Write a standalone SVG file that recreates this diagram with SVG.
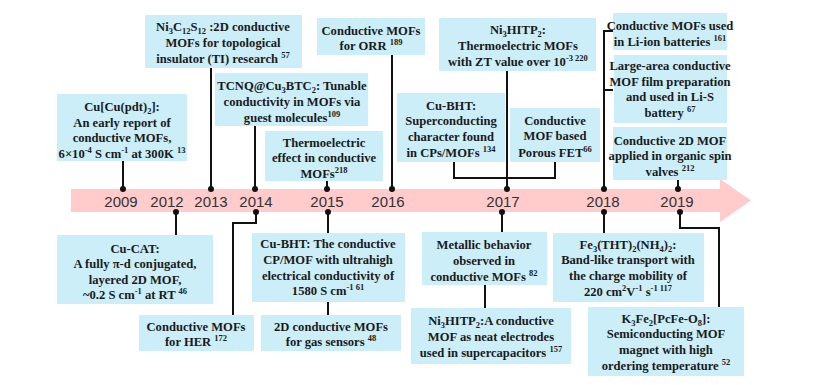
<svg xmlns="http://www.w3.org/2000/svg" width="827" height="385" viewBox="0 0 827 385">
<style>
.bg{fill:#ffffff}
.box{fill:#CBEEF9}
.t{font-family:"Liberation Serif","Times New Roman",serif;font-weight:bold;font-size:12.6px;fill:#1a1a1a;text-anchor:middle}
.sb{font-size:8.5px;baseline-shift:-3px}
.sp{font-size:8.5px;baseline-shift:5px}
.yr{font-family:"Liberation Sans",Arial,sans-serif;font-size:15px;fill:#333;text-anchor:middle}
.ln{fill:none;stroke:#111;stroke-width:2}
.dot{fill:#111}
</style>
<rect class="bg" x="0" y="0" width="827" height="385"/>
<g id="timeline">
<polygon points="71,189 720,189 720,179 751,200.5 720,222 720,212 71,212" fill="#FFCBCB"/>
<text class="yr" x="121" y="206.5">2009</text>
<text class="yr" x="167" y="206.5">2012</text>
<text class="yr" x="211" y="206.5">2013</text>
<text class="yr" x="256" y="206.5">2014</text>
<text class="yr" x="327" y="206.5">2015</text>
<text class="yr" x="388" y="206.5">2016</text>
<text class="yr" x="503" y="206.5">2017</text>
<text class="yr" x="603" y="206.5">2018</text>
<text class="yr" x="677" y="206.5">2019</text>
</g>
<g id="connectors">
<path class="ln" d="M123,161 V189"/>
<path class="ln" d="M211,68 V189"/>
<path class="ln" d="M255,126 V189"/>
<path class="ln" d="M327,181 V189"/>
<path class="ln" d="M392,55 V189"/>
<path class="ln" d="M507,71 V189"/>
<path class="ln" d="M454,162 V178 H555 V162"/>
<path class="ln" d="M613,31 H604 V189 M613,90 H604"/>
<path class="ln" d="M678,180 V189"/>
<path class="ln" d="M176,212 V235"/>
<path class="ln" d="M256,212 V223 H233 V315"/>
<path class="ln" d="M328,212 V233 M328,302 V315"/>
<path class="ln" d="M502,212 V232 M485,285 V308"/>
<path class="ln" d="M604,212 V233"/>
<path class="ln" d="M680,212 V228 H719 V307"/>
<circle class="dot" cx="123" cy="189" r="3"/>
<circle class="dot" cx="211" cy="189" r="3"/>
<circle class="dot" cx="255" cy="189" r="3"/>
<circle class="dot" cx="327" cy="189" r="3"/>
<circle class="dot" cx="392" cy="189" r="3"/>
<circle class="dot" cx="507" cy="189" r="3"/>
<circle class="dot" cx="604" cy="189" r="3"/>
<circle class="dot" cx="678" cy="189" r="3"/>
<circle class="dot" cx="176" cy="212" r="3"/>
<circle class="dot" cx="256" cy="212" r="3"/>
<circle class="dot" cx="328" cy="212" r="3"/>
<circle class="dot" cx="502" cy="212" r="3"/>
<circle class="dot" cx="604" cy="212" r="3"/>
<circle class="dot" cx="680" cy="212" r="3"/>
</g>
<g id="n2009">
<rect class="box" x="57" y="94" width="130" height="67"/>
<text class="t" x="122" y="111">Cu[Cu(pdt)<tspan class="sb">2</tspan>]:</text>
<text class="t" x="122" y="126.5">An early report of</text>
<text class="t" x="122" y="142">conductive MOFs,</text>
<text class="t" x="122" y="157.5">6×10<tspan class="sp">-4</tspan> S cm<tspan class="sp">-1</tspan> at 300K <tspan class="sp">13</tspan></text>
</g>
<g id="n2013">
<rect class="box" x="145" y="15" width="157" height="53"/>
<text class="t" x="223" y="31">Ni<tspan class="sb">3</tspan>C<tspan class="sb">12</tspan>S<tspan class="sb">12</tspan> :2D conductive</text>
<text class="t" x="223" y="47">MOFs for topological</text>
<text class="t" x="223" y="63">insulator (TI) research <tspan class="sp">57</tspan></text>
</g>
<g id="n2014a">
<rect class="box" x="215" y="73" width="153" height="53"/>
<text class="t" x="292" y="90">TCNQ@Cu<tspan class="sb">3</tspan>BTC<tspan class="sb">2</tspan>: Tunable</text>
<text class="t" x="292" y="106">conductivity in MOFs via</text>
<text class="t" x="292" y="122">guest molecules<tspan class="sp">109</tspan></text>
</g>
<g id="n2015a">
<rect class="box" x="265" y="131" width="118" height="50"/>
<text class="t" x="324" y="146.5">Thermoelectric</text>
<text class="t" x="324" y="162">effect in conductive</text>
<text class="t" x="324" y="177.5">MOFs<tspan class="sp">218</tspan></text>
</g>
<g id="n2016">
<rect class="box" x="317" y="18" width="108" height="37"/>
<text class="t" x="371" y="34.5">Conductive MOFs</text>
<text class="t" x="371" y="50">for ORR <tspan class="sp">189</tspan></text>
</g>
<g id="n2017a">
<rect class="box" x="439" y="18" width="157" height="53"/>
<text class="t" x="518" y="34">Ni<tspan class="sb">3</tspan>HITP<tspan class="sb">2</tspan>:</text>
<text class="t" x="518" y="50">Thermoelectric MOFs</text>
<text class="t" x="518" y="65.5">with ZT value over 10<tspan class="sp">-3 220</tspan></text>
</g>
<g id="n2017b">
<rect class="box" x="397" y="93" width="108" height="69"/>
<text class="t" x="451" y="109.5">Cu-BHT:</text>
<text class="t" x="451" y="125">Superconducting</text>
<text class="t" x="451" y="141">character found</text>
<text class="t" x="451" y="156.5">in CPs/MOFs <tspan class="sp">134</tspan></text>
</g>
<g id="n2017c">
<rect class="box" x="510" y="108" width="90" height="54"/>
<text class="t" x="555" y="124.5">Conductive</text>
<text class="t" x="555" y="140">MOF based</text>
<text class="t" x="555" y="156.5">Porous FET<tspan class="sp">66</tspan></text>
</g>
<g id="n2018a">
<rect class="box" x="613" y="13" width="114" height="37"/>
<text class="t" x="670" y="29.5">Conductive MOFs used</text>
<text class="t" x="670" y="45.5">in Li-ion batteries <tspan class="sp">161</tspan></text>
</g>
<g id="n2018b">
<rect class="box" x="614" y="55" width="113" height="68"/>
<text class="t" x="670" y="70">Large-area conductive</text>
<text class="t" x="670" y="85.5">MOF film preparation</text>
<text class="t" x="670" y="101">and used in Li-S</text>
<text class="t" x="670" y="116.5">battery <tspan class="sp">67</tspan></text>
</g>
<g id="n2019a">
<rect class="box" x="613" y="127" width="114" height="53"/>
<text class="t" x="670" y="144.5">Conductive 2D MOF</text>
<text class="t" x="670" y="160">applied in organic spin</text>
<text class="t" x="670" y="175.5">valves <tspan class="sp">212</tspan></text>
</g>
<g id="n2012">
<rect class="box" x="57" y="235" width="156" height="69"/>
<text class="t" x="135" y="252.5">Cu-CAT:</text>
<text class="t" x="135" y="268">A fully π-d conjugated,</text>
<text class="t" x="135" y="283.5">layered 2D MOF,</text>
<text class="t" x="135" y="299">~0.2 S cm<tspan class="sp">-1</tspan> at RT <tspan class="sp">46</tspan></text>
</g>
<g id="n2014b">
<rect class="box" x="139" y="315" width="115" height="36"/>
<text class="t" x="196" y="330.5">Conductive MOFs</text>
<text class="t" x="196" y="346">for HER <tspan class="sp">172</tspan></text>
</g>
<g id="n2015b">
<rect class="box" x="252" y="233" width="153" height="69"/>
<text class="t" x="328" y="247.5">Cu-BHT: The conductive</text>
<text class="t" x="328" y="263.5">CP/MOF with ultrahigh</text>
<text class="t" x="328" y="279.5">electrical conductivity of</text>
<text class="t" x="328" y="295">1580 S cm<tspan class="sp">-1 61</tspan></text>
</g>
<g id="n2015c">
<rect class="box" x="261" y="315" width="140" height="36"/>
<text class="t" x="331" y="330.5">2D conductive MOFs</text>
<text class="t" x="331" y="346">for gas sensors <tspan class="sp">48</tspan></text>
</g>
<g id="n2017d">
<rect class="box" x="422" y="232" width="125" height="53"/>
<text class="t" x="484" y="248.5">Metallic behavior</text>
<text class="t" x="484" y="264.5">observed in</text>
<text class="t" x="484" y="280.5">conductive MOFs <tspan class="sp">82</tspan></text>
</g>
<g id="n2017e">
<rect class="box" x="411" y="308" width="160" height="56"/>
<text class="t" x="491" y="324.5">Ni<tspan class="sb">3</tspan>HITP<tspan class="sb">2</tspan>:A conductive</text>
<text class="t" x="491" y="340.5">MOF as neat electrodes</text>
<text class="t" x="491" y="356.5">used in supercapacitors <tspan class="sp">157</tspan></text>
</g>
<g id="n2018c">
<rect class="box" x="553" y="233" width="151" height="69"/>
<text class="t" x="628" y="248.5">Fe<tspan class="sb">3</tspan>(THT)<tspan class="sb">2</tspan>(NH<tspan class="sb">4</tspan>)<tspan class="sb">2</tspan>:</text>
<text class="t" x="628" y="264">Band-like transport with</text>
<text class="t" x="628" y="279.5">the charge mobility of</text>
<text class="t" x="628" y="295.5">220 cm<tspan class="sp">2</tspan>V<tspan class="sp">-1</tspan> s<tspan class="sp">-1 117</tspan></text>
</g>
<g id="n2019b">
<rect class="box" x="588" y="307" width="156" height="69"/>
<text class="t" x="666" y="322.5">K<tspan class="sb">3</tspan>Fe<tspan class="sb">2</tspan>[PcFe-O<tspan class="sb">8</tspan>]:</text>
<text class="t" x="666" y="338">Semiconducting MOF</text>
<text class="t" x="666" y="353.5">magnet with high</text>
<text class="t" x="666" y="369.5">ordering temperature <tspan class="sp">52</tspan></text>
</g>
</svg>
